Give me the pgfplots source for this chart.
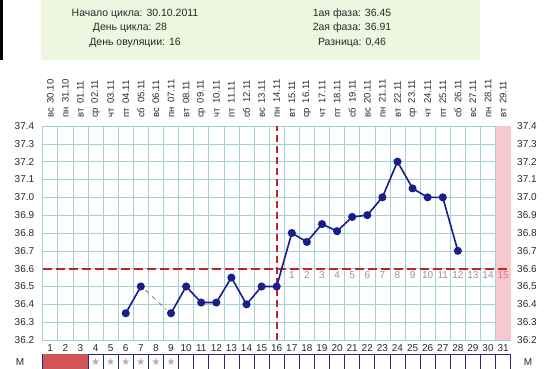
\documentclass[border=0pt]{standalone}
\usepackage{fontspec}
\setmainfont{Liberation Sans}
\newfontfamily\symfont{DejaVu Sans}
\usepackage{pgfplots}
\pgfplotsset{compat=1.18}
\definecolor{gridc}{RGB}{165,208,214}
\definecolor{navy}{RGB}{25,30,140}
\definecolor{redd}{RGB}{195,35,35}
\definecolor{pinkc}{RGB}{247,200,204}
\definecolor{hdr}{RGB}{239,246,223}
\definecolor{mred}{RGB}{210,85,85}
\definecolor{starc}{RGB}{200,160,160}
\definecolor{cellb}{RGB}{40,40,130}
\definecolor{txt}{RGB}{40,40,40}
\definecolor{phase}{RGB}{150,150,150}
\begin{document}
\begin{tikzpicture}[x=1pt,y=1pt]
% header
\fill[hdr] (41,309) rectangle (480,369);
\fill[black] (0,309) rectangle (3,369);
\begin{scope}[every node/.style={font=\fontsize{10.5}{12}\selectfont, text=txt, inner sep=0pt}]
\node at (135,355) {Начало цикла: 30.10.2011};
\node at (130,341) {День цикла: 28};
\node at (135,326) {День овуляции: 16};
\node at (352,355) {1ая фаза: 36.45};
\node at (352,341) {2ая фаза: 36.91};
\node at (352,326) {Разница: 0,46};
\end{scope}
\begin{axis}[at={(42.7pt,29pt)}, anchor=south west, scale only axis,
  width=468pt, height=214pt,
  xmin=0.5, xmax=31.5, ymin=36.2, ymax=37.4, clip=false,
  axis line style={gridc, line width=0.6pt},
  axis background/.style={fill=white},
  xtick={1,...,31},
  minor xtick={0.5,1.5,...,31.5},
  ytick={36.2,36.3,36.4,36.5,36.6,36.7,36.8,36.9,37.0,37.1,37.2,37.3,37.4},
  xminorgrids=true, xmajorgrids=false, ymajorgrids=true,
  major tick length=0pt, minor tick length=0pt,
  grid style={gridc, line width=0.6pt},
  minor grid style={gridc, line width=0.6pt},
  tick label style={font=\fontsize{10}{12}\selectfont, text=txt},
  xticklabel style={/pgf/number format/assume math mode=true, yshift=-1pt},
  yticklabel style={/pgf/number format/fixed, /pgf/number format/fixed zerofill,
    /pgf/number format/precision=1, /pgf/number format/assume math mode=true, xshift=-5pt},
]
% pink last column
\addplot[fill=pinkc, draw=none] coordinates {(30.5,36.2) (31.5,36.2) (31.5,37.4) (30.5,37.4)} -- cycle;
% coverline and ovulation line
\addplot[redd, line width=2pt, dash pattern=on 9pt off 4pt] coordinates {(0.5,36.6) (31.5,36.6)};
\addplot[redd, line width=2pt, dash pattern=on 7pt off 4pt] coordinates {(16,36.2) (16,37.4)};
% gap line
\addplot[black!60, line width=0.6pt, dash pattern=on 5pt off 4pt] coordinates {(7.3,36.48) (8.7,36.37)};
% temperatures
\addplot[navy, line width=1.6pt, mark=*, mark size=3.2pt, mark options={fill=navy}] coordinates {(6,36.35) (7,36.50)};
\addplot[navy, line width=1.6pt, mark=*, mark size=3.2pt, mark options={fill=navy}] coordinates {
(9,36.35) (10,36.50) (11,36.41) (12,36.41) (13,36.55) (14,36.40) (15,36.50) (16,36.50)
(17,36.80) (18,36.75) (19,36.85) (20,36.81) (21,36.89) (22,36.90) (23,37.00) (24,37.20)
(25,37.05) (26,37.00) (27,37.00) (28,36.70)};
\end{axis}
% date labels
\foreach \i/\w/\d in {1/вс/30.10,2/пн/31.10,3/вт/01.11,4/ср/02.11,5/чт/03.11,6/пт/04.11,7/сб/05.11,8/вс/06.11,9/пн/07.11,10/вт/08.11,11/ср/09.11,12/чт/10.11,13/пт/11.11,14/сб/12.11,15/вс/13.11,16/пн/14.11,17/вт/15.11,18/ср/16.11,19/чт/17.11,20/пт/18.11,21/сб/19.11,22/вс/20.11,23/пн/21.11,24/вт/22.11,25/ср/23.11,26/чт/24.11,27/пт/25.11,28/сб/26.11,29/вс/27.11,30/пн/28.11,31/вт/29.11}{
  \node[rotate=90, anchor=west, inner sep=0pt, text=txt, font=\fontsize{9.5}{10}\selectfont] at ({42.7+(\i-0.5)*15.0968},251) {\w\enspace\d};
}
% phase-2 day numbers
\foreach \k in {1,...,14}{
  \node[text=phase, font=\fontsize{10}{12}\selectfont, inner sep=0pt] at ({42.7+(\k+16-0.5)*15.0968},94) {\k};
}
\node[text=redd!60, font=\fontsize{10}{12}\selectfont, inner sep=0pt] at ({42.7+(31-0.5)*15.0968},94) {15};
% right tick labels
\foreach \t/\s in {36.2/36.2,36.3/36.3,36.4/36.4,36.5/36.5,36.6/36.6,36.7/36.7,36.8/36.8,36.9/36.9,37.0/37.0,37.1/37.1,37.2/37.2,37.3/37.3,37.4/37.4}{
  \node[anchor=west, inner sep=0pt, text=txt, font=\fontsize{10}{12}\selectfont] at (517,{29+(\t-36.2)*178.33}) {\s};
}
% M row
\foreach \i in {1,...,31}{
  \draw[cellb, line width=0.7pt] ({42.7+(\i-1)*15.0968},-3) rectangle ({42.7+\i*15.0968},15);
}
\fill[mred] (42.7,-3) rectangle ({42.7+3*15.0968},15.3);
\foreach \i in {4,...,9}{
  \node[text=starc, font=\symfont\fontsize{10}{10}\selectfont, inner sep=0pt] at ({42.7+(\i-0.5)*15.0968},7.5) {★};
}
\node[text=txt, font=\fontsize{10}{12}\selectfont] at (20,7) {М};
\node[text=txt, font=\fontsize{10}{12}\selectfont] at (528,7) {М};
\pgfresetboundingbox
\useasboundingbox (0,0) rectangle (550,369);
\end{tikzpicture}
\end{document}
